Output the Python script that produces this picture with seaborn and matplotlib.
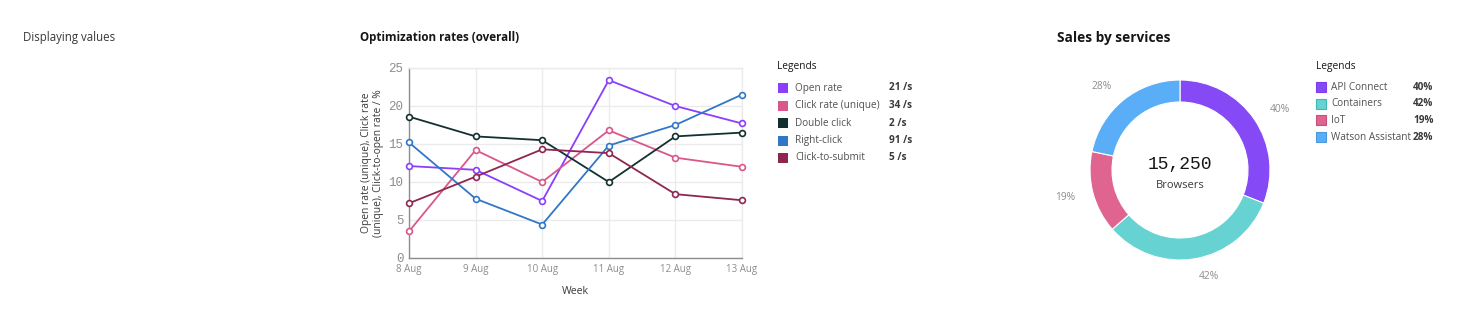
import matplotlib
matplotlib.use("Agg")
import matplotlib.pyplot as plt
from matplotlib import font_manager
from matplotlib.patches import Rectangle
import numpy as np
import pandas as pd
import seaborn as sns

# ---- data -------------------------------------------------------------
weeks = ["8 Aug", "9 Aug", "10 Aug", "11 Aug", "12 Aug", "13 Aug"]
series_names = ["Open rate", "Click rate (unique)", "Double click",
                "Right-click", "Click-to-submit"]
open_rate = [12.1, 11.6, 7.5, 23.4, 20.0, 17.7]
click_rate = [3.5, 14.2, 10.0, 16.8, 13.2, 12.0]
double_click = [18.6, 16.0, 15.5, 10.0, 16.0, 16.5]
right_click = [15.2, 7.8, 4.4, 14.8, 17.5, 21.5]
click_to_submit = [7.2, 10.7, 14.3, 13.8, 8.4, 7.6]
series_rates = ["21 /s", "34 /s", "2 /s", "91 /s", "5 /s"]

services = ["API Connect", "Containers", "IoT", "Watson Assistant"]
service_pct = [40, 42, 19, 28]
donut_total = "15,250"
donut_caption = "Browsers"

# ---- style ------------------------------------------------------------
sns.set_theme(style="white")


def pick_family(candidates):
    """First family that has both a regular and a bold face installed."""
    for fam in candidates:
        faces = [f for f in font_manager.fontManager.ttflist if f.name == fam]
        weights = {f.weight if isinstance(f.weight, int) else 400 for f in faces}
        if faces and any(w >= 600 for w in weights) and any(w < 600 for w in weights):
            return fam
    return "DejaVu Sans"


SANS = pick_family(["IBM Plex Sans", "Open Sans", "Noto Sans", "Lato", "Roboto"])
plt.rcParams["font.family"] = [SANS, "DejaVu Sans"]

line_colors = ["#8a3ffc", "#d9578a", "#12302f", "#3177c8", "#8f2651"]
donut_colors = ["#8549f5", "#66d3d2", "#df6590", "#5aaef7"]
donut_edges = ["#7a3de6", "#3fb5b4", "#c9507c", "#4c98dd"]
TEXT = "#393939"
LEG = "#525252"
MUTED = "#8d8d8d"

W, H = 1467, 336
fig = plt.figure(figsize=(W / 100, H / 100), dpi=100)
fig.patch.set_facecolor("white")


def fx(px):
    return px / W


def fy(py):
    return 1 - py / H


fig.text(fx(23), fy(38), "Displaying values", fontsize=8.3, color=TEXT,
         va="center", ha="left")

# ---- line chart -------------------------------------------------------
rows = []
for name, vals in zip(series_names, [open_rate, click_rate, double_click,
                                     right_click, click_to_submit]):
    for i, v in enumerate(vals):
        rows.append({"week": i, "value": v, "series": name})
df = pd.DataFrame(rows)

ax = fig.add_axes([fx(409), fy(258), fx(742) - fx(409), fy(68) - fy(258)])
sns.lineplot(data=df, x="week", y="value", hue="series",
             hue_order=series_names,
             palette=dict(zip(series_names, line_colors)),
             marker="o", markersize=4.2, markerfacecolor="white",
             markeredgewidth=1.2, linewidth=1.3, legend=False, ax=ax,
             clip_on=False, zorder=3)
for ln in ax.get_lines():
    ln.set_markeredgecolor(ln.get_color())

ax.set_xlim(0, len(weeks) - 1)
ax.set_ylim(0, 25)
ax.set_xticks(range(len(weeks)))
ax.set_xticklabels(weeks, fontsize=7.0, color=MUTED)
ax.set_yticks(range(0, 26, 5))
ax.set_yticklabels([str(v) for v in range(0, 26, 5)], fontsize=9,
                   color=MUTED, family="Liberation Mono")
ax.tick_params(axis="both", length=0, pad=4)
ax.grid(True, color="#ebebeb", linewidth=1)
ax.set_axisbelow(True)
for side in ["top", "right"]:
    ax.spines[side].set_color("#ebebeb")
    ax.spines[side].set_linewidth(1)
for side in ["left", "bottom"]:
    ax.spines[side].set_color("#8d8d8d")
    ax.spines[side].set_linewidth(1)
ax.set_xlabel("Week", fontsize=7.6, color=TEXT, labelpad=8)
ax.set_ylabel("Open rate (unique), Click rate\n(unique), Click-to-open rate / %",
              fontsize=7.4, color=TEXT, labelpad=3, linespacing=1.2)

fig.text(fx(360), fy(38), "Optimization rates (overall)", fontsize=8.4,
         fontweight="bold", color="#161616", va="center", ha="left")

# line legend
fig.text(fx(777), fy(67), "Legends", fontsize=7.3, color="#161616",
         va="center", ha="left")
for k, (name, rate, col) in enumerate(zip(series_names, series_rates,
                                          line_colors)):
    yc = 88 + k * 17.5
    fig.patches.append(Rectangle((fx(778), fy(yc + 5)), fx(10), 10 / H,
                                 transform=fig.transFigure, facecolor=col,
                                 edgecolor="none"))
    fig.text(fx(795), fy(yc), name, fontsize=7.2, color=LEG,
             va="center", ha="left")
    fig.text(fx(889), fy(yc), rate, fontsize=7.2, color=TEXT,
             fontweight="bold", va="center", ha="left")

# ---- donut chart ------------------------------------------------------
cx, cy, half = 1180, 170, 100
dax = fig.add_axes([fx(cx - half), fy(cy + half), 2 * half / W, 2 * half / H])
wedges, _ = dax.pie(service_pct, colors=donut_colors, startangle=90,
                    counterclock=False, radius=0.9,
                    wedgeprops=dict(width=0.22, edgecolor="white",
                                    linewidth=0.8))
dax.set_xlim(-1, 1)
dax.set_ylim(-1, 1)
dax.set_aspect("equal")
dax.axis("off")

for w, p in zip(wedges, service_pct):
    mid = np.deg2rad((w.theta1 + w.theta2) / 2)
    r = 1.08
    x, y = r * np.cos(mid), r * np.sin(mid)
    ha = "left" if x > 0.15 else ("right" if x < -0.15 else "center")
    dax.text(x, y, f"{p}%", fontsize=7.4, color=MUTED, ha=ha, va="center",
             clip_on=False)

dax.text(0, 0.05, donut_total, fontsize=13, family="Liberation Mono",
         color="#161616", ha="center", va="center")
dax.text(0, -0.16, donut_caption, fontsize=8, color=TEXT, ha="center",
         va="center")

fig.text(fx(1057), fy(38), "Sales by services", fontsize=9.8,
         fontweight="bold", color="#161616", va="center", ha="left")

fig.text(fx(1316), fy(67), "Legends", fontsize=7.3, color="#161616",
         va="center", ha="left")
for k, (name, p, col, ec) in enumerate(zip(services, service_pct,
                                           donut_colors, donut_edges)):
    yc = 87 + k * 16.7
    fig.patches.append(Rectangle((fx(1316), fy(yc + 5)), fx(10), 10 / H,
                                 transform=fig.transFigure, facecolor=col,
                                 edgecolor=ec, linewidth=0.8))
    fig.text(fx(1331), fy(yc), name, fontsize=7.2, color=LEG,
             va="center", ha="left")
    fig.text(fx(1413), fy(yc), f"{p}%", fontsize=7.2, color=TEXT,
             fontweight="bold", va="center", ha="left")

fig.savefig("out.png", dpi=100, facecolor="white")
